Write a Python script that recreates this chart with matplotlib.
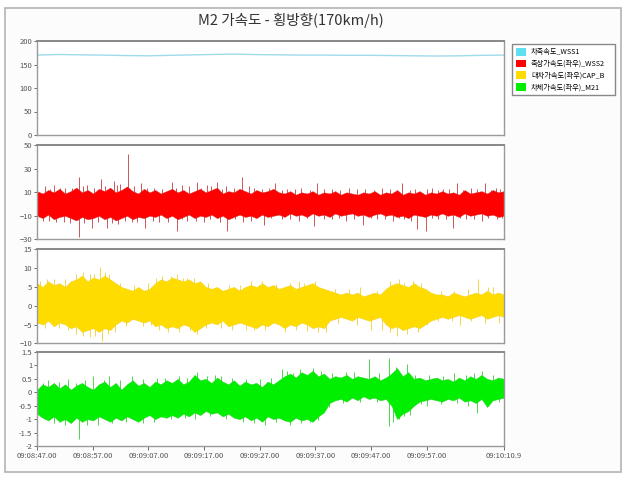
import numpy as np
import matplotlib
matplotlib.use('Agg')
import matplotlib.pyplot as plt
from matplotlib.patches import Patch, Rectangle

plt.rcParams['font.family'] = ['Noto Sans CJK KR', 'DejaVu Sans']

title = 'M2 가속도 - 횡방향(170km/h)'
names = ['차축속도_WSS1', '축상가속도(좌우)_WSS2', '대차가속도(좌우)CAP_B', '차체가속도(좌우)_M21']
colors = ['#5fe0f2', '#ff0000', '#ffdc00', '#00ee00']
xlabels = ['09:08:47.00', '09:08:57.00', '09:09:07.00', '09:09:17.00', '09:09:27.00',
           '09:09:37.00', '09:09:47.00', '09:09:57.00', '09:10:10.9']
xticks = [0, 10, 20, 30, 40, 50, 60, 70, 83.9]
t_end = 83.9

# 차축속도 (km/h)
speed = [170, 171.3, 170.5, 170, 169, 168.5, 169.5, 170.5, 171.5, 172, 171,
         170.5, 170, 170, 169.5, 169.5, 169, 168.5, 168, 168.5, 169.5, 170]

# 1초 간격 포락선 (상한/하한) + 튀는 값
red_hi = [11, 9, 12, 10, 13, 9, 11, 14, 10, 12, 9, 13,
          11, 14, 10, 12, 15, 11, 9, 13, 10, 12, 9, 11,
          13, 10, 12, 9, 11, 13, 10, 12, 14, 9, 11, 10,
          13, 11, 9, 12, 10, 11, 13, 10, 9, 11, 8, 10,
          9, 11, 8, 10, 9, 11, 8, 10, 9, 8, 10, 9,
          11, 8, 10, 9, 12, 8, 10, 9, 11, 8, 10, 9,
          11, 9, 10, 8, 12, 9, 10, 11, 9, 12, 10, 11]
red_lo = [-10, -12, -9, -13, -11, -10, -12, -14, -11, -13, -12, -10,
          -13, -11, -14, -12, -10, -13, -11, -12, -10, -11, -9, -12,
          -10, -13, -11, -9, -12, -10, -11, -9, -12, -10, -13, -11,
          -9, -11, -10, -12, -9, -11, -10, -9, -11, -8, -10, -9,
          -11, -8, -10, -9, -11, -8, -10, -9, -8, -10, -9, -11,
          -9, -8, -10, -9, -11, -10, -12, -9, -10, -11, -9, -10,
          -8, -10, -9, -11, -8, -10, -9, -8, -10, -9, -11, -10]
red_up_t = [1.5, 3, 5, 7.5, 9, 11.5, 13.8, 15, 16.3, 18.6, 21, 24.2, 26, 28.7, 30.5, 32.3, 34,
            36.8, 39, 42.8, 45, 47.5, 50.3, 53, 56, 59, 62, 65.5, 68, 71, 73, 75.4, 78, 80.5, 82.5,
            2.3, 4.2, 6.3, 8.2, 10.3, 12.3, 14.3, 17.5, 19.8, 22.5, 25, 27.3, 29.5, 31.2, 33.2,
            35.4, 38, 40.5, 41.6, 44, 46.3, 49, 51.5, 54.5, 57.5, 60.5, 63.5, 67, 70, 72, 74,
            76.5, 79, 81.5, 83.2]
red_up_v = [15, 16, 14, 23, 16, 21, 20, 17, 42.5, 17.6, 14, 19, 16, 19, 16, 19, 15,
            22.7, 14, 17.6, 13, 14, 17.6, 13, 14, 13, 14, 18, 13, 14, 13, 17.6, 14, 17.6, 14,
            13, 14, 13.5, 15, 14, 15, 16, 15, 14, 13, 14, 15, 14, 15, 13,
            14, 15, 13, 14, 12, 13, 12, 13, 12, 13, 12, 13, 12, 13, 12, 13,
            12, 13, 12, 13]
red_dn_t = [1, 3.5, 6, 7.5, 9.9, 12.6, 14.5, 17, 19.4, 22, 25.1, 27, 30, 34.2, 37, 40.7,
            44, 47, 49.8, 53, 55.5, 58.6, 61, 64, 66, 68.2, 69.9, 72, 74.8, 77, 80, 83.6,
            2.2, 4.8, 8.5, 11, 13.5, 15.8, 18, 20.8, 23.5, 26, 28.5, 31, 32.8, 35.5, 38.5,
            42, 45.5, 48.5, 51.5, 54.3, 57, 60, 62.5, 65, 67.2, 71, 73.5, 76, 78.5, 81, 82.7]
red_dn_v = [-14, -15, -16, -27.8, -20, -20, -17, -15, -20, -15, -22.7, -14, -15, -22.7, -15, -18,
            -13, -14, -18.7, -13, -14, -18, -13, -14, -13, -21.5, -22.7, -13, -20, -13, -14, -12,
            -14, -15, -16, -15, -16, -14, -15, -14, -15, -13, -14, -13, -15, -13, -14,
            -12, -13, -12, -13, -12, -13, -12, -13, -12, -14, -12, -13, -12, -13, -12, -13]

yel_hi = [6, 5, 6.5, 5.5, 6, 5, 6.5, 7, 8, 6.5, 7.5, 7,
          8, 7, 6, 5, 4.5, 4, 5, 4, 4.5, 6, 7, 6.5,
          7.5, 7, 6.5, 7, 6, 6.5, 5, 4.5, 5, 4, 4.5, 5,
          4, 5, 5.5, 5, 6, 5, 5.5, 4.5, 5, 5.5, 4.5, 5,
          5.5, 6, 5, 4.5, 4, 3.5, 3, 3.5, 3, 3.5, 2.5, 3,
          3.5, 3, 4.5, 5.5, 6, 5.5, 5, 6, 5, 4.5, 3.5, 3,
          3, 2.5, 3.5, 3, 2.5, 3, 3.5, 3, 4, 3, 3.5, 3]
yel_lo = [-4.5, -5, -4, -5.5, -4.5, -5, -6, -5.5, -7, -6.5, -6, -7,
          -6, -6.5, -5, -4, -4.5, -3.5, -4, -4.5, -4, -5.5, -5, -6,
          -5.5, -6, -5, -5.5, -7, -6, -5, -4.5, -5, -4, -5.5, -5,
          -4.5, -5, -5.5, -6, -5, -5.5, -4.5, -5, -6, -5, -5.5, -4.5,
          -5, -6, -5.5, -6, -4, -3.5, -3, -3.5, -4, -3, -3.5, -4,
          -3.5, -3, -5, -6, -5.5, -6.5, -6, -5.5, -6, -5, -4, -3.5,
          -3, -3.5, -3, -2.5, -3, -3.5, -3, -2.5, -3.5, -3, -2.5, -3]
yel_up_t = [0.5, 3, 7, 9.5, 11.3, 13, 22.5, 24, 27, 43, 48, 58, 66, 79.3, 82,
            1.8, 5, 8.3, 10.3, 12.2, 15, 17.5, 20, 21.3, 25.2, 26.2, 28.2, 30.7, 34.5, 36.5,
            38.5, 40.5, 45.5, 47, 50, 53.5, 56, 61, 63.5, 65, 67.5, 69, 72.5, 75, 77.5, 81]
yel_up_v = [6.5, 7, 8.5, 8.5, 10.4, 8.3, 8, 8, 7.5, 5.8, 6, 5, 6, 7, 5,
            7, 7, 9, 8.5, 9, 6, 5.5, 6, 7.5, 8.5, 7.5, 7.5, 6, 5.5, 5.5,
            6.5, 6.5, 6, 6.5, 6.5, 4.5, 4.5, 4, 6.5, 7, 6.5, 6, 4, 4, 4.5, 5]
yel_dn_t = [4, 7, 9.6, 11.6, 14, 22, 28.7, 33, 39, 48.5, 52, 60, 64.6, 70, 76, 83,
            1.5, 5.5, 8.3, 10.5, 12.8, 16, 19, 20.5, 23.5, 25.5, 27.5, 30.3, 35, 37.5,
            41, 44.5, 46.5, 50.5, 54, 57.5, 62, 63.5, 66.5, 68.5, 72, 74.5, 78, 80.5]
yel_dn_v = [-6, -7.5, -8.4, -9.3, -7, -6.5, -7.5, -6, -6.5, -6.8, -7, -6.5, -8, -5, -5, -4.5,
            -6, -6.5, -8, -8, -7.5, -5.5, -5.5, -5, -7, -7, -6.5, -6, -6.5, -6.5,
            -6.5, -7, -6.5, -7, -4.5, -5, -6.5, -7, -7.5, -7, -4, -4, -4, -4.5]

grn_hi = [0.1, 0.3, 0.2, 0.35, 0.15, 0.3, 0.1, 0.25, 0.35, 0.2, 0.1, 0.3,
          0.4, 0.2, 0.35, 0.1, 0.3, 0.45, 0.25, 0.35, 0.2, 0.4, 0.3, 0.45,
          0.35, 0.5, 0.3, 0.4, 0.65, 0.45, 0.5, 0.35, 0.55, 0.4, 0.3, 0.45,
          0.25, 0.4, 0.3, 0.35, 0.2, 0.4, 0.3, 0.45, 0.6, 0.7, 0.55, 0.75,
          0.65, 0.8, 0.6, 0.7, 0.5, 0.6, 0.55, 0.65, 0.5, 0.6, 0.55, 0.5,
          0.6, 0.45, 0.55, 0.7, 0.9, 0.6, 0.75, 0.5, 0.55, 0.45, 0.5, 0.55,
          0.45, 0.5, 0.4, 0.55, 0.45, 0.6, 0.5, 0.65, 0.5, 0.45, 0.55, 0.5]
grn_lo = [-0.8, -0.95, -1.05, -0.9, -1.1, -1.0, -1.15, -0.95, -1.1, -1.0, -1.05, -0.9,
          -1.0, -1.1, -0.95, -1.05, -0.9, -1.0, -1.1, -0.95, -0.85, -1.0, -0.9, -0.95,
          -0.85, -0.95, -0.8, -0.9, -0.75, -0.85, -0.7, -0.8, -0.75, -0.9, -0.8, -0.95,
          -1.0, -0.9, -1.05, -0.95, -1.1, -0.9, -1.0, -0.95, -1.05, -1.1, -0.95, -1.05,
          -1.0, -1.1, -0.9, -0.75, -0.4, -0.3, -0.25, -0.35, -0.2, -0.3, -0.15, -0.25,
          -0.2, -0.3, -0.25, -0.5, -1.0, -0.8, -0.7, -0.5, -0.35, -0.3, -0.25, -0.3,
          -0.35, -0.25, -0.3, -0.2, -0.35, -0.3, -0.4, -0.25, -0.55, -0.3, -0.25, -0.2]
grn_up_t = [2, 5.5, 10, 13, 17, 28.7, 33, 44, 46, 59.7, 63.3, 66.5, 77, 80,
            1, 4, 7, 8.7, 12, 15, 19, 21.5, 23, 25.5, 27, 30.5, 32, 35, 37.5, 40, 42,
            45, 47.3, 49.5, 51, 53, 55.5, 57, 61.5, 64.5, 68, 70.5, 73, 75, 78.5, 82]
grn_up_v = [0.45, 0.5, 0.6, 0.6, 0.6, 0.75, 0.6, 0.85, 0.7, 1.23, 1.29, 1.04, 0.65, 0.8,
            0.35, 0.4, 0.35, 0.45, 0.45, 0.45, 0.5, 0.55, 0.55, 0.6, 0.55, 0.6, 0.65, 0.55,
            0.5, 0.5, 0.55, 0.8, 0.85, 0.9, 0.8, 0.7, 0.75, 0.75, 0.7, 0.95, 0.65, 0.65,
            0.6, 0.7, 0.7, 0.65]
grn_dn_t = [3, 7.5, 11, 19, 28.4, 41, 49, 63.3, 65, 66, 70, 79,
            1.5, 5, 9, 13.5, 16, 21, 24, 26.5, 31, 34, 37, 39, 43, 45.5, 47.5, 50.5,
            52.5, 55, 58, 61, 64, 67, 69, 72.5, 75.5, 77.5, 81, 83]
grn_dn_v = [-1.15, -1.75, -1.2, -1.15, -1.0, -1.2, -1.1, -1.25, -1.0, -0.88, -0.5, -0.76,
            -1.0, -1.2, -1.2, -1.15, -1.1, -1.1, -1.0, -0.95, -0.9, -1.0, -1.1, -1.15,
            -1.1, -1.2, -1.15, -1.05, -0.55, -0.4, -0.35, -0.35, -1.1, -0.85, -0.45,
            -0.45, -0.4, -0.5, -0.45, -0.35]

fig = plt.figure(figsize=(6.25, 4.8), dpi=100)
fig.patches.append(Rectangle((5 / 625, 8 / 480), 616 / 625, 464 / 480, transform=fig.transFigure,
                             facecolor='#fcfcfc', edgecolor='#b4b4b4', lw=1.2, zorder=-5))
fig.text(0.465, 1 - 20 / 480, title, ha='center', va='center', fontsize=10.5, color='#333333')

left, width, h = 37 / 625, 467 / 625, 94 / 480
tops = [41, 145.3, 249.3, 352]
ylims = [(0, 200), (-30, 50), (-10, 15), (-2, 1.5)]
yticks = [[0, 50, 100, 150, 200], [-30, -10, 10, 30, 50],
          [-10, -5, 0, 5, 10, 15], [-2, -1.5, -1, -0.5, 0, 0.5, 1, 1.5]]
ytlabels = [None, None, None, ['-2', '-1.5', '-1', '-0.5', '0', '0.5', '1', '1.5']]

axes = []
for i in range(4):
    ax = fig.add_axes([left, 1 - (tops[i] + 94) / 480, width, h])
    ax.set_xlim(0, t_end)
    ax.set_ylim(*ylims[i])
    ax.set_yticks(yticks[i])
    if ytlabels[i]:
        ax.set_yticklabels(ytlabels[i])
    ax.tick_params(axis='y', labelsize=5.5, length=2.5, width=0.6, colors='#555555', pad=1)
    ax.tick_params(axis='x', labelsize=5.5, length=3, width=0.6, colors='#555555', pad=1)
    for s in ax.spines.values():
        s.set_color('#9a9a9a')
        s.set_linewidth(1.0)
    ax.spines['top'].set_linewidth(1.4)
    ax.spines['top'].set_color('#888888')
    if i < 3:
        ax.set_xticks([])
    else:
        ax.set_xticks(xticks)
        ax.set_xticklabels(xlabels)
    axes.append(ax)

t_env = np.linspace(0, t_end, len(red_hi))
t_spd = np.linspace(0, t_end, len(speed))

axes[0].plot(t_spd, speed, color='#9edbea', lw=1.0)

series = [
    (red_hi, red_lo, red_up_t, red_up_v, red_dn_t, red_dn_v, '#ff0000', '#c83a3a'),
    (yel_hi, yel_lo, yel_up_t, yel_up_v, yel_dn_t, yel_dn_v, '#ffdc00', '#ecd030'),
    (grn_hi, grn_lo, grn_up_t, grn_up_v, grn_dn_t, grn_dn_v, '#00ee00', '#30d030'),
]
for ax, (hi, lo, ut, uv, dt, dv, c, ec) in zip(axes[1:], series):
    # 튀는 값은 띠 뒤에 그려서 바깥으로 나온 부분만 보이게
    ax.vlines(ut, 0, uv, color=ec, lw=0.6, zorder=1)
    ax.vlines(dt, dv, 0, color=ec, lw=0.6, zorder=1)
    ax.fill_between(t_env, lo, hi, color=c, lw=0.3, edgecolor=ec, zorder=2)

handles = [Patch(facecolor=c, edgecolor='none') for c in colors]
fig.legend(handles, names, loc='upper left',
           bbox_to_anchor=(508 / 625, 1 - 96 / 480, 111 / 625, 56 / 480), mode='expand',
           fontsize=5.2, frameon=True, fancybox=False, edgecolor='#888888',
           handlelength=1.4, handleheight=1.3, handletextpad=0.7, labelspacing=0.45,
           borderpad=0.6, framealpha=1)

fig.savefig('out.png', dpi=100)
